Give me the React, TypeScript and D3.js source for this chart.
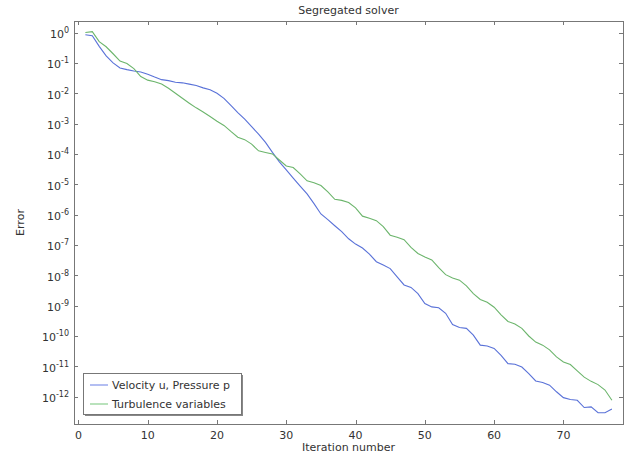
import React from 'react';
import * as d3 from 'd3';

const iterations = [
  1, 2, 3, 4, 5, 6, 7, 8, 9, 10, 11, 12, 13, 14, 15, 16, 17, 18, 19, 20,
  21, 22, 23, 24, 25, 26, 27, 28, 29, 30, 31, 32, 33, 34, 35, 36, 37, 38, 39, 40,
  41, 42, 43, 44, 45, 46, 47, 48, 49, 50, 51, 52, 53, 54, 55, 56, 57, 58, 59, 60,
  61, 62, 63, 64, 65, 66, 67, 68, 69, 70, 71, 72, 73, 74, 75, 76, 77,
];

const velocityPressure = [
  8.5e-1, 7.8e-1, 3.5e-1, 1.7e-1, 1.0e-1, 6.8e-2, 6.0e-2, 5.4e-2, 5.0e-2, 4.2e-2,
  3.4e-2, 2.8e-2, 2.6e-2, 2.3e-2, 2.2e-2, 2.0e-2, 1.8e-2, 1.5e-2, 1.3e-2, 1.0e-2,
  6.8e-3, 4.0e-3, 2.3e-3, 1.4e-3, 7.9e-4, 4.5e-4, 2.4e-4, 1.12e-4, 5.5e-5, 3.0e-5,
  1.6e-5, 8.7e-6, 4.8e-6, 2.3e-6, 1.05e-6, 6.8e-7, 4.3e-7, 2.75e-7, 1.6e-7, 1.07e-7,
  7.9e-8, 5.0e-8, 2.8e-8, 2.2e-8, 1.66e-8, 8.9e-9, 4.8e-9, 4.0e-9, 2.5e-9, 1.17e-9,
  9.1e-10, 8.5e-10, 5.6e-10, 2.4e-10, 1.9e-10, 1.78e-10, 1.07e-10, 5.0e-11, 4.7e-11, 3.9e-11,
  2.3e-11, 1.23e-11, 1.17e-11, 9.5e-12, 5.75e-12, 3.3e-12, 2.95e-12, 2.4e-12, 1.45e-12, 9.3e-13,
  8.1e-13, 7.6e-13, 4.4e-13, 4.6e-13, 2.95e-13, 2.95e-13, 3.9e-13,
];

const turbulence = [
  1.0, 1.07, 5.0e-1, 3.4e-1, 2.0e-1, 1.15e-1, 9.5e-2, 6.5e-2, 3.55e-2, 2.7e-2,
  2.4e-2, 2.0e-2, 1.45e-2, 1.0e-2, 6.8e-3, 4.7e-3, 3.3e-3, 2.4e-3, 1.7e-3, 1.2e-3,
  8.7e-4, 5.5e-4, 3.55e-4, 2.95e-4, 2.1e-4, 1.26e-4, 1.12e-4, 1.0e-4, 6.3e-5, 4.0e-5,
  3.55e-5, 2.2e-5, 1.3e-5, 1.12e-5, 9.1e-6, 5.6e-6, 3.2e-6, 2.95e-6, 2.5e-6, 1.66e-6,
  8.9e-7, 7.6e-7, 6.3e-7, 4.0e-7, 2.1e-7, 1.8e-7, 1.5e-7, 8.3e-8, 5.25e-8, 4.0e-8,
  3.2e-8, 1.78e-8, 1.05e-8, 8.1e-9, 6.9e-9, 4.5e-9, 2.5e-9, 1.6e-9, 1.3e-9, 8.9e-10,
  5.0e-10, 3.0e-10, 2.5e-10, 1.78e-10, 1.0e-10, 6.3e-11, 5.0e-11, 3.5e-11, 2.04e-11, 1.4e-11,
  1.15e-11, 7.1e-12, 4.4e-12, 3.2e-12, 2.5e-12, 1.66e-12, 7.6e-13,
];

const xTicks = [0, 10, 20, 30, 40, 50, 60, 70];
const yTickExponents = [0, -1, -2, -3, -4, -5, -6, -7, -8, -9, -10, -11, -12];
const seriesNames = ['Velocity u, Pressure p', 'Turbulence variables'];
const seriesColors = ['#5a72d8', '#6cb56c'];
const legendColors = ['#9aa8ee', '#a2d8a6'];

const W = 631;
const H = 458;
const PL = 74;
const PR = 623;
const PT = 21;
const PB = 424;
const FONT = '"DejaVu Sans", sans-serif';
const TEXT = '#333';
const FRAME = '#777';

export default function App() {
  const x = d3.scaleLinear().domain([-0.64, 78.6]).range([PL, PR]);
  const y = d3.scaleLog().domain([Math.pow(10, 0.38), Math.pow(10, -12.9)]).range([PT, PB]);
  const line = d3
    .line<number>()
    .x((_, i) => x(iterations[i]))
    .y((d) => y(d));
  const series = [velocityPressure, turbulence];
  const tick = 4;

  return (
    <svg
      width={W}
      height={H}
      style={{ position: 'absolute', left: 0, top: 0, background: '#fff' }}
      fontFamily={FONT}
    >
      <rect x={0} y={0} width={W} height={H} fill="#fff" />
      {series.map((s, k) => (
        <path key={k} d={line(s) || ''} fill="none" stroke={seriesColors[k]} strokeWidth={1.1} />
      ))}
      {/* frame */}
      <rect x={PL + 0.5} y={PT + 0.5} width={PR - PL} height={PB - PT} fill="none" stroke={FRAME} strokeWidth={1} />
      {/* x ticks */}
      {xTicks.map((t) => {
        const px = Math.round(x(t)) + 0.5;
        return (
          <g key={t}>
            <line x1={px} x2={px} y1={PB} y2={PB - tick} stroke={FRAME} />
            <line x1={px} x2={px} y1={PT} y2={PT + tick} stroke={FRAME} />
            <text x={x(t)} y={439} textAnchor="middle" fontSize={11} fill={TEXT}>
              {t}
            </text>
          </g>
        );
      })}
      {/* y ticks */}
      {yTickExponents.map((e) => {
        const py = Math.round(y(Math.pow(10, e))) + 0.5;
        return (
          <g key={e}>
            <line x1={PL} x2={PL + tick} y1={py} y2={py} stroke={FRAME} />
            <line x1={PR} x2={PR - tick} y1={py} y2={py} stroke={FRAME} />
            <text x={69} y={y(Math.pow(10, e)) + 5.5} textAnchor="end" fontSize={11} fill={TEXT}>
              <tspan>10</tspan>
              <tspan dy={-5} fontSize={8}>
                {e}
              </tspan>
            </text>
          </g>
        );
      })}
      {/* title & labels */}
      <text x={(PL + PR) / 2} y={14} textAnchor="middle" fontSize={11} fill={TEXT}>
        Segregated solver
      </text>
      <text x={(PL + PR) / 2} y={451} textAnchor="middle" fontSize={11} fill={TEXT}>
        Iteration number
      </text>
      <text
        transform={`translate(24, ${(PT + PB) / 2}) rotate(-90)`}
        textAnchor="middle"
        fontSize={11}
        fill={TEXT}
      >
        Error
      </text>
      {/* legend */}
      <g>
        <rect x={85} y={375} width={158} height={41} fill="#888" />
        <rect x={83.5} y={373.5} width={158} height={41} fill="#fff" stroke={FRAME} />
        {seriesNames.map((n, k) => (
          <g key={n}>
            <line x1={90} x2={108} y1={385 + k * 19} y2={385 + k * 19} stroke={legendColors[k]} strokeWidth={1.5} />
            <text x={112} y={389 + k * 19} fontSize={11} fill={TEXT}>
              {n}
            </text>
          </g>
        ))}
      </g>
    </svg>
  );
}
